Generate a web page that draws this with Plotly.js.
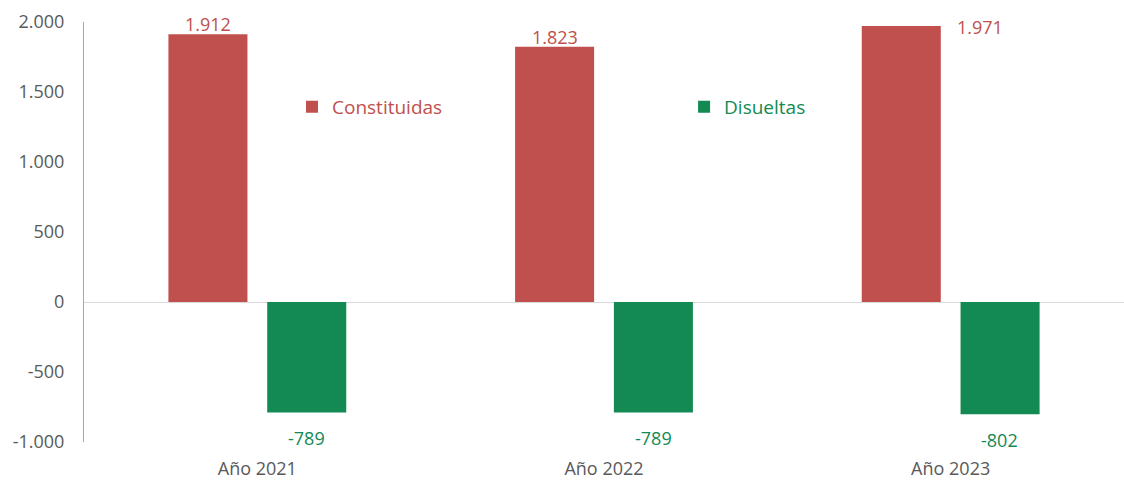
<!DOCTYPE html>
<html>
<head>
<meta charset="utf-8">
<script src="https://cdn.plot.ly/plotly-3.0.1.min.js"></script>
<style>
  body { margin: 0; background: #fff; }
  #chart { width: 1124px; height: 483px; }
</style>
</head>
<body>
<div id="chart"></div>
<script>
const years = ['Año 2021', 'Año 2022', 'Año 2023'];
const constituidas = [1912, 1823, 1971];
const disueltas = [-789, -789, -802];
const yTickVals = [-1000, -500, 0, 500, 1000, 1500, 2000];
const yTickText = ['-1.000', '-500', '0', '500', '1.000', '1.500', '2.000'];

const red = '#C0504D';
const green = '#138A53';
const font = '"Open Sans", Lato, sans-serif';

// formato con punto de miles y guion normal
function fmt(v) {
    let s = Math.abs(v).toString().replace(/\B(?=(\d{3})+(?!\d))/g, '.');
    return (v < 0 ? '-' : '') + s;
}

let traceC = {
    x: years,
    y: constituidas,
    name: 'Constituidas',
    type: 'bar',
    marker: { color: red },
    legend: 'legend',
    hoverinfo: 'skip'
};

let traceD = {
    x: years,
    y: disueltas,
    name: 'Disueltas',
    type: 'bar',
    marker: { color: green },
    legend: 'legend2',
    hoverinfo: 'skip'
};

let annotations = [];
for (let i = 0; i < years.length; i++) {
    // la última etiqueta roja va a la derecha de la barra
    let last = i === years.length - 1;
    annotations.push({
        x: years[i], y: constituidas[i],
        text: fmt(constituidas[i]),
        showarrow: false,
        xshift: last ? 4 : -49,
        xanchor: last ? 'left' : 'center',
        yanchor: last ? 'top' : 'bottom',
        yshift: last ? 13 : -4,
        font: { family: font, size: 18, color: red }
    });
    annotations.push({
        x: years[i], y: disueltas[i],
        text: fmt(disueltas[i]),
        showarrow: false,
        xshift: 49,
        yanchor: 'top',
        yshift: -12,
        font: { family: font, size: 18, color: green }
    });
}

let layout = {
    width: 1124,
    height: 483,
    margin: { l: 84, r: 0, t: 22, b: 41 },
    paper_bgcolor: '#fff',
    plot_bgcolor: '#fff',
    font: { family: font, size: 18, color: '#595959' },
    barmode: 'group',
    bargap: 0.43,
    bargroupgap: 0.2,
    showlegend: true,
    legend: {
        x: 0.2, y: 0.798, xanchor: 'left', yanchor: 'middle',
        bgcolor: 'rgba(0,0,0,0)',
        font: { family: font, size: 19, color: red }
    },
    legend2: {
        x: 0.577, y: 0.798, xanchor: 'left', yanchor: 'middle',
        bgcolor: 'rgba(0,0,0,0)',
        font: { family: font, size: 19, color: green }
    },
    xaxis: {
        type: 'category',
        showgrid: false,
        showline: false,
        zeroline: false,
        ticks: '',
        ticklabelstandoff: 14,
        tickfont: { family: font, size: 18, color: '#595959' }
    },
    yaxis: {
        range: [-1000, 2000],
        tickvals: yTickVals,
        ticktext: yTickText,
        showgrid: false,
        showline: true,
        linecolor: '#A6A6A6',
        linewidth: 1,
        zeroline: true,
        zerolinecolor: '#D9D9D9',
        zerolinewidth: 1,
        ticks: '',
        ticklabelstandoff: 15,
        tickfont: { family: font, size: 18, color: '#595959' }
    },
    annotations: annotations
};

Plotly.newPlot('chart', [traceC, traceD], layout, { staticPlot: true });
</script>
</body>
</html>
